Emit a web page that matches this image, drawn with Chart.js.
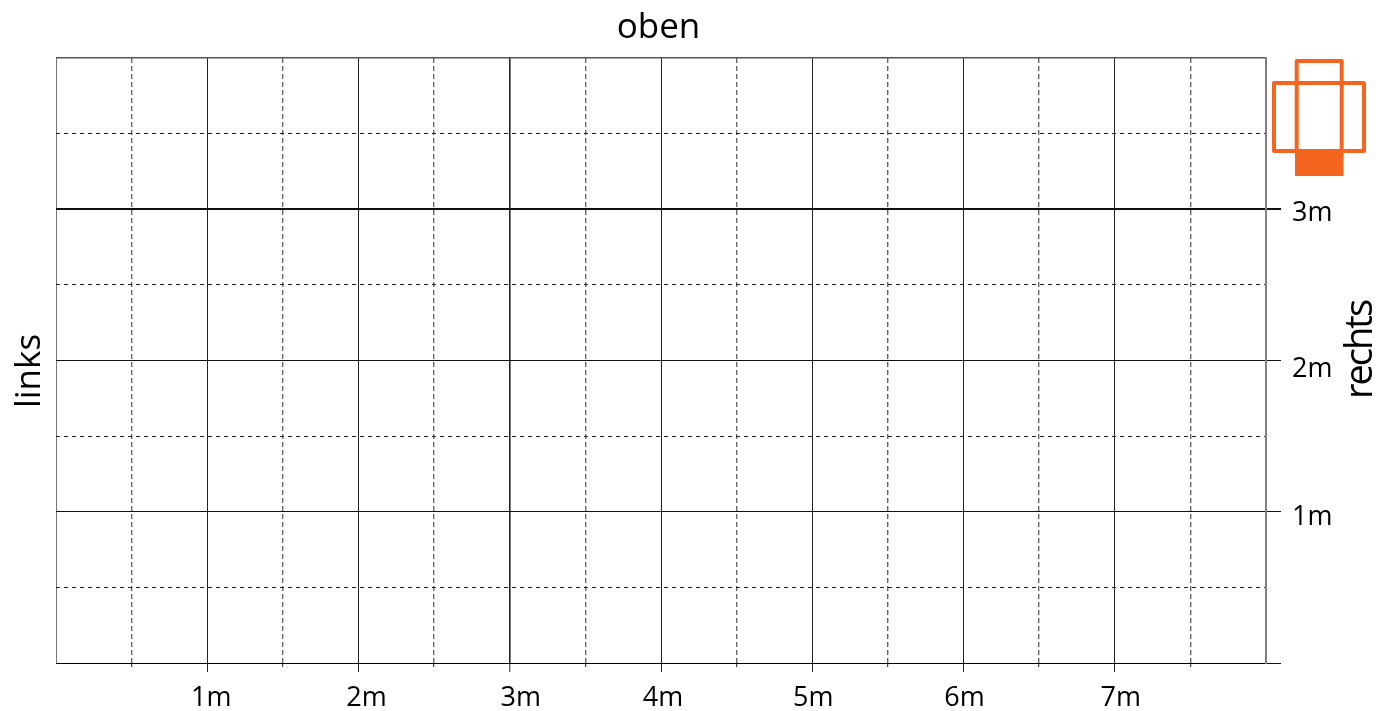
<!DOCTYPE html>
<html>
<head>
<meta charset="utf-8">
<style>
  html, body { margin: 0; padding: 0; background: #fff; }
  #wrap { width: 1390px; height: 711px; }
</style>
</head>
<body>
<div id="wrap"><canvas id="myChart"></canvas></div>
<script src="https://cdn.jsdelivr.net/npm/chart.js@4"></script>
<script>
const xRange = [0, 8];
const yRange = [0, 4];
const gridStep = 0.5;
const xTickLabels = ['1m', '2m', '3m', '4m', '5m', '6m', '7m'];
const yTickLabels = ['1m', '2m', '3m'];
const titleTop = 'oben';
const titleLeft = 'links';
const titleRight = 'rechts';

const fontName = '"Open Sans"';
const orange = '#f4651f';

// the labels in the picture are not quite centred on their ticks
const xLabelNudge = { '1m': 4, '2m': 8, '3m': 11, '4m': 2, '5m': 1, '6m': 1, '7m': 6 };
const yLabelNudge = { '1m': 6, '2m': 9, '3m': 4 };

function isMajor(v) {
  return Number.isInteger(v);
}

function labelsFor(list, maxVal) {
  return v => (isMajor(v) && v > 0 && v < maxVal ? list[v - 1] : '');
}

const nudgePlugin = {
  id: 'nudge',
  afterLayout(chart) {
    chart.scales.x.getLabelItems().forEach(item => {
      item.options.translation[0] += xLabelNudge[item.label] || 0;
    });
    chart.scales.y.getLabelItems().forEach(item => {
      item.options.translation[1] += yLabelNudge[item.label] || 0;
    });
  }
};

const decoPlugin = {
  id: 'deco',
  afterDraw(chart) {
    const c = chart.ctx;
    c.save();
    c.fillStyle = '#000';
    c.font = '35px ' + fontName;
    c.textAlign = 'center';
    c.textBaseline = 'middle';
    c.fillText(titleTop, 658.5, 28);

    c.save();
    c.translate(30, 371);
    c.rotate(-Math.PI / 2);
    c.fillText(titleLeft, 0, 0);
    c.restore();

    c.save();
    c.translate(1361, 350);
    c.rotate(-Math.PI / 2);
    c.font = '38px ' + fontName;
    c.letterSpacing = '-2px';
    c.fillText(titleRight, 0, 0);
    c.restore();

    // orange box icon
    c.strokeStyle = orange;
    c.fillStyle = orange;
    c.lineWidth = 4;
    c.lineJoin = 'round';
    c.strokeRect(1296.7, 61, 45, 90);
    c.strokeRect(1274, 83, 90, 68);
    c.fillRect(1295, 149, 48.5, 27);
    c.restore();
  }
};

new Chart(document.getElementById('myChart'), {
  type: 'scatter',
  data: { datasets: [] },
  plugins: [nudgePlugin, decoPlugin],
  options: {
    responsive: true,
    maintainAspectRatio: false,
    animation: false,
    layout: { padding: { left: 56, top: 58, right: 0, bottom: 0 } },
    plugins: { legend: { display: false }, tooltip: { enabled: false } },
    scales: {
      x: {
        type: 'linear',
        position: 'bottom',
        min: xRange[0],
        max: xRange[1],
        afterFit(s) { s.height = 48; },
        border: {
          color: '#000',
          width: 1,
          dash: c => (isMajor(c.tick.value) ? [] : [5, 3])
        },
        grid: {
          color: c => {
            const v = c.tick.value;
            if (v === xRange[0] || v === xRange[1]) return '#777';
            return isMajor(v) ? '#222' : '#666';
          },
          lineWidth: c => {
            const v = c.tick.value;
            if (v === 3) return 1.6;
            return isMajor(v) ? 1 : 1.4;
          },
          tickLength: 9,
          tickColor: '#222',
          tickWidth: c => (c.tick.value === xRange[0] || c.tick.value === xRange[1] ? 0 : 1),
          tickBorderDash: c => (isMajor(c.tick.value) ? [] : [3, 30])
        },
        ticks: {
          stepSize: gridStep,
          autoSkip: false,
          maxRotation: 0,
          padding: 10,
          color: '#000',
          font: { family: fontName, size: 27 },
          callback: labelsFor(xTickLabels, xRange[1])
        }
      },
      y: {
        type: 'linear',
        position: 'right',
        min: yRange[0],
        max: yRange[1],
        afterFit(s) { s.width = 124; },
        border: {
          color: '#808080',
          width: 2,
          dash: c => (isMajor(c.tick.value) ? [] : [4, 4])
        },
        grid: {
          color: c => {
            const v = c.tick.value;
            if (v === yRange[1]) return '#555';
            return isMajor(v) ? '#111' : '#222';
          },
          lineWidth: c => {
            const v = c.tick.value;
            if (v === 3) return 2;
            return v === yRange[1] ? 1.5 : 1;
          },
          tickLength: 15,
          tickColor: '#111',
          tickWidth: c => {
            const v = c.tick.value;
            if (!isMajor(v) || v === yRange[1]) return 0;
            return v === 3 ? 2 : 1;
          }
        },
        ticks: {
          stepSize: gridStep,
          autoSkip: false,
          padding: 11,
          color: '#000',
          font: { family: fontName, size: 27 },
          callback: labelsFor(yTickLabels, yRange[1])
        }
      }
    }
  }
});
</script>
</body>
</html>
